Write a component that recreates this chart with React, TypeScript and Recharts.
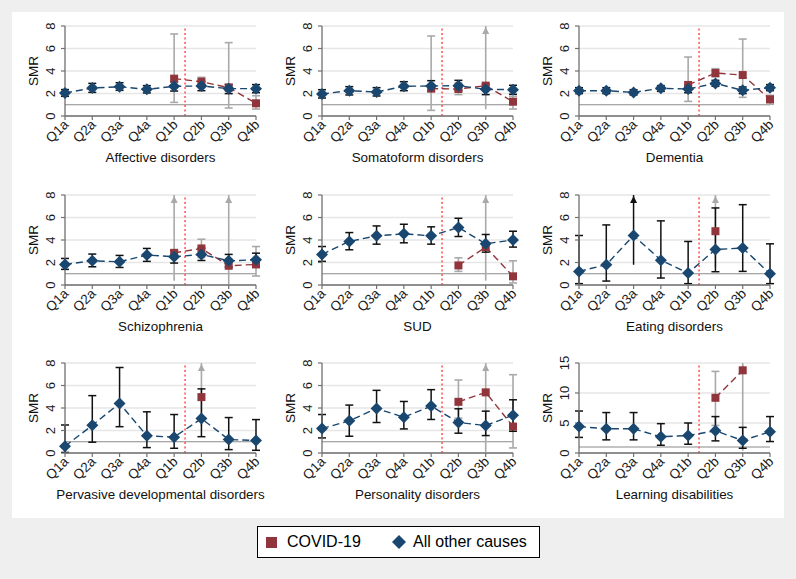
import React from 'react';
import { ComposedChart, Line, XAxis, YAxis, CartesianGrid, ReferenceLine, ErrorBar, Label } from 'recharts';

// ---------- data ----------
const quarters = ['Q1a', 'Q2a', 'Q3a', 'Q4a', 'Q1b', 'Q2b', 'Q3b', 'Q4b'];
const OFF = Infinity; // upper CI limit beyond the axis (drawn as an arrow)
const PANDEMIC_X = 4.4;
const REF_SMR = 1;
const smrTicks = [0, 2, 4, 6, 8];
const smrTicksWide = [0, 5, 10, 15];
const n = null;

const affectiveOther = [2.05, 2.49, 2.6, 2.37, 2.64, 2.67, 2.43, 2.43];
const affectiveOtherLo = [1.75, 2.1, 2.28, 2.05, 2.22, 2.25, 1.99, 2.07];
const affectiveOtherHi = [2.35, 2.9, 2.96, 2.7, 3.05, 3.08, 2.81, 2.79];
const affectiveCovid = [n, n, n, n, 3.32, 3.05, 2.52, 1.13];
const affectiveCovidLo = [n, n, n, n, 1.21, 2.64, 0.71, 0.62];
const affectiveCovidHi = [n, n, n, n, 7.29, 3.44, 6.52, 1.8];

const somatoformOther = [1.96, 2.25, 2.13, 2.64, 2.67, 2.7, 2.37, 2.34];
const somatoformOtherLo = [1.6, 1.87, 1.78, 2.25, 2.22, 2.28, 1.9, 1.93];
const somatoformOtherHi = [2.34, 2.61, 2.52, 3.05, 3.14, 3.17, 2.81, 2.73];
const somatoformCovid = [n, n, n, n, 2.43, 2.4, 2.7, 1.27];
const somatoformCovidLo = [n, n, n, n, 0.5, 1.9, 0.59, 0.62];
const somatoformCovidHi = [n, n, n, n, 7.11, 2.93, OFF, 1.75];

const dementiaOther = [2.25, 2.25, 2.1, 2.46, 2.4, 2.9, 2.28, 2.52];
const dementiaOtherLo = [1.99, 1.99, 1.87, 2.19, 2.07, 2.64, 1.99, 2.25];
const dementiaOtherHi = [2.52, 2.52, 2.34, 2.7, 2.73, 3.17, 2.58, 2.79];
const dementiaCovid = [n, n, n, n, 2.76, 3.82, 3.64, 1.48];
const dementiaCovidLo = [n, n, n, n, 1.3, 3.47, 1.66, 1.04];
const dementiaCovidHi = [n, n, n, n, 5.24, 4.21, 6.84, 1.84];

const schizoOther = [1.83, 2.15, 2.07, 2.66, 2.51, 2.72, 2.15, 2.24];
const schizoOtherLo = [1.39, 1.62, 1.56, 2.1, 1.95, 2.18, 1.59, 1.68];
const schizoOtherHi = [2.36, 2.75, 2.63, 3.25, 3.04, 3.28, 2.72, 2.83];
const schizoCovid = [n, n, n, n, 2.86, 3.25, 1.71, 1.83];
const schizoCovidLo = [n, n, n, n, 0.38, 2.45, 0.05, 0.8];
const schizoCovidHi = [n, n, n, n, OFF, 4.07, OFF, 3.42];

const sudOther = [2.72, 3.87, 4.37, 4.55, 4.37, 5.11, 3.66, 4.01];
const sudOtherLo = [2.1, 3.13, 3.63, 3.75, 3.63, 4.31, 2.92, 3.37];
const sudOtherHi = [3.42, 4.66, 5.25, 5.4, 5.17, 5.93, 4.49, 4.78];
const sudCovid = [n, n, n, n, n, 1.74, 3.37, 0.77];
const sudCovidLo = [n, n, n, n, n, 1.21, 0.38, 0.18];
const sudCovidHi = [n, n, n, n, n, 2.42, OFF, 2.15];

const eatingOther = [1.21, 1.8, 4.4, 2.21, 1.06, 3.16, 3.28, 1.0];
const eatingOtherLo = [0.12, 0.35, 1.8, 0.62, 0.12, 1.18, 1.21, 0.12];
const eatingOtherHi = [4.4, 5.34, OFF, 5.7, 3.87, 6.85, 7.14, 3.66];
const eatingCovid = [n, n, n, n, n, 4.78, n, n];
const eatingCovidLo = [n, n, n, n, n, 1.56, n, n];
const eatingCovidHi = [n, n, n, n, n, OFF, n, n];

const pervasiveOther = [0.6, 2.46, 4.41, 1.53, 1.41, 3.06, 1.2, 1.11];
const pervasiveOtherLo = [0.05, 0.96, 2.34, 0.48, 0.42, 1.45, 0.3, 0.24];
const pervasiveOtherHi = [2.49, 5.1, 7.6, 3.66, 3.42, 5.7, 3.15, 2.97];
const pervasiveCovid = [n, n, n, n, n, 4.97, n, n];
const pervasiveCovidLo = [n, n, n, n, n, 2.4, n, n];
const pervasiveCovidHi = [n, n, n, n, n, OFF, n, n];

const personalityOther = [2.17, 2.86, 3.96, 3.18, 4.17, 2.71, 2.44, 3.36];
const personalityOtherLo = [1.34, 1.49, 2.71, 2.14, 2.98, 1.76, 1.55, 1.93];
const personalityOtherHi = [3.42, 4.26, 5.57, 4.58, 5.63, 3.93, 3.72, 4.73];
const personalityCovid = [n, n, n, n, n, 4.55, 5.39, 2.35];
const personalityCovidLo = [n, n, n, n, n, 3.1, 0.1, 0.45];
const personalityCovidHi = [n, n, n, n, n, 6.49, OFF, 6.96];

const learningOther = [4.4, 4.04, 4.04, 2.7, 2.92, 3.7, 2.08, 3.54];
const learningOtherLo = [2.6, 2.19, 2.19, 1.29, 1.46, 2.02, 0.79, 1.91];
const learningOtherHi = [7.0, 6.74, 6.74, 4.89, 5.0, 6.07, 4.27, 6.07];
const learningCovid = [n, n, n, n, n, 9.2, 13.78, n];
const learningCovidLo = [n, n, n, n, n, 4.6, 0.35, n];
const learningCovidHi = [n, n, n, n, n, 13.6, OFF, n];

const legendLabels = ['COVID-19', 'All other causes'];

// ---------- styling ----------
const FONT = '"Liberation Sans", Arial, Helvetica, sans-serif';
const NAVY = '#1a476f';
const MAROON = '#90353b';
const CI_OTHER = '#111111';
const CI_COVID = '#a9a9a9';
const AXIS = '#707070';
const GRID = '#e6e6e6';

type PanelDef = {
  title: string;
  ticks: number[];
  other: (number | null)[]; otherLo: (number | null)[]; otherHi: (number | null)[];
  covid: (number | null)[]; covidLo: (number | null)[]; covidHi: (number | null)[];
};

const panels: PanelDef[] = [
  { title: 'Affective disorders', ticks: smrTicks, other: affectiveOther, otherLo: affectiveOtherLo, otherHi: affectiveOtherHi, covid: affectiveCovid, covidLo: affectiveCovidLo, covidHi: affectiveCovidHi },
  { title: 'Somatoform disorders', ticks: smrTicks, other: somatoformOther, otherLo: somatoformOtherLo, otherHi: somatoformOtherHi, covid: somatoformCovid, covidLo: somatoformCovidLo, covidHi: somatoformCovidHi },
  { title: 'Dementia', ticks: smrTicks, other: dementiaOther, otherLo: dementiaOtherLo, otherHi: dementiaOtherHi, covid: dementiaCovid, covidLo: dementiaCovidLo, covidHi: dementiaCovidHi },
  { title: 'Schizophrenia', ticks: smrTicks, other: schizoOther, otherLo: schizoOtherLo, otherHi: schizoOtherHi, covid: schizoCovid, covidLo: schizoCovidLo, covidHi: schizoCovidHi },
  { title: 'SUD', ticks: smrTicks, other: sudOther, otherLo: sudOtherLo, otherHi: sudOtherHi, covid: sudCovid, covidLo: sudCovidLo, covidHi: sudCovidHi },
  { title: 'Eating disorders', ticks: smrTicks, other: eatingOther, otherLo: eatingOtherLo, otherHi: eatingOtherHi, covid: eatingCovid, covidLo: eatingCovidLo, covidHi: eatingCovidHi },
  { title: 'Pervasive developmental disorders', ticks: smrTicks, other: pervasiveOther, otherLo: pervasiveOtherLo, otherHi: pervasiveOtherHi, covid: pervasiveCovid, covidLo: pervasiveCovidLo, covidHi: pervasiveCovidHi },
  { title: 'Personality disorders', ticks: smrTicks, other: personalityOther, otherLo: personalityOtherLo, otherHi: personalityOtherHi, covid: personalityCovid, covidLo: personalityCovidLo, covidHi: personalityCovidHi },
  { title: 'Learning disabilities', ticks: smrTicksWide, other: learningOther, otherLo: learningOtherLo, otherHi: learningOtherHi, covid: learningCovid, covidLo: learningCovidLo, covidHi: learningCovidHi },
];

// ---------- renderers ----------
const XTick = (props: any) => {
  const { x, y, payload } = props;
  return (
    <text x={x + 1} y={y} transform={`rotate(-45 ${x + 1} ${y})`} textAnchor="end" dy="0.35em"
      fontSize={13.5} fill="#1a1a1a" fontFamily={FONT}>
      {quarters[payload.value]}
    </text>
  );
};

const YTick = (props: any) => {
  const { x, y, payload } = props;
  const cx = x - 9;
  return (
    <text x={cx} y={y} transform={`rotate(-90 ${cx} ${y})`} textAnchor="middle" dy="0.35em"
      fontSize={13} fill="#1a1a1a" fontFamily={FONT}>
      {payload.value}
    </text>
  );
};

const diamondDot = (p: any) => {
  const k = `d${p.index}`;
  if (p.cx == null || p.cy == null || p.value == null) return <g key={k} />;
  const { cx, cy } = p;
  const r = 6;
  return <polygon key={k} points={`${cx},${cy - r} ${cx + r},${cy} ${cx},${cy + r} ${cx - r},${cy}`} fill={NAVY} />;
};

const squareDot = (p: any) => {
  const k = `s${p.index}`;
  if (p.cx == null || p.cy == null || p.value == null) return <g key={k} />;
  const { cx, cy } = p;
  return <rect key={k} x={cx - 4} y={cy - 4} width={8} height={8} fill={MAROON} />;
};

const arrowDot = (color: string) => (p: any) => {
  const k = `a${p.index}`;
  if (p.cx == null || p.cy == null || p.value == null) return <g key={k} />;
  const { cx, cy } = p;
  return <polygon key={k} points={`${cx},${cy + 1} ${cx - 3.5},${cy + 8} ${cx + 3.5},${cy + 8}`} fill={color} />;
};

function buildRows(def: PanelDef, ymax: number) {
  return quarters.map((_, i) => {
    const row: any = { x: i, o: def.other[i], c: def.covid[i] };
    const series: [string, (number | null)[], (number | null)[], (number | null)[]][] = [
      ['o', def.other, def.otherLo, def.otherHi],
      ['c', def.covid, def.covidLo, def.covidHi],
    ];
    series.forEach(([key, v, lo, hi]) => {
      const val = v[i], l = lo[i], h = hi[i];
      if (val == null || l == null || h == null) return;
      if (h > ymax) {
        row[key + 'ErrT'] = [val - l, ymax - val];
        row[key + 'Arrow'] = ymax;
      } else {
        row[key + 'Err'] = [val - l, h - val];
      }
    });
    return row;
  });
}

const CHART_W = 262;
const CHART_H = 150;

function Panel({ def, left, top }: { def: PanelDef; left: number; top: number }) {
  const ymax = def.ticks[def.ticks.length - 1];
  const rows = buildRows(def, ymax);
  return (
    <div style={{ position: 'absolute', left, top, width: CHART_W, height: CHART_H }}>
      <ComposedChart width={CHART_W} height={CHART_H} data={rows}
        margin={{ top: 10, right: 16, bottom: 0, left: 25 }}>
        <CartesianGrid vertical={false} stroke={GRID} strokeWidth={1.3} />
        <XAxis type="number" dataKey="x" domain={[0, 7]} ticks={[0, 1, 2, 3, 4, 5, 6, 7]}
          interval={0} height={50} tick={<XTick />} tickSize={4} tickMargin={2}
          axisLine={{ stroke: AXIS, strokeWidth: 1.3 }} tickLine={{ stroke: AXIS, strokeWidth: 1.2 }}>
          <Label content={(lp: any) => {
            const vb = lp.viewBox || {};
            return (
              <text x={vb.x + vb.width / 2} y={vb.y + 45.5} textAnchor="middle"
                fontSize={13.4} fill="#111" fontFamily={FONT}>{def.title}</text>
            );
          }} />
        </XAxis>
        <YAxis type="number" domain={[0, ymax]} ticks={def.ticks} interval={0} width={30}
          tick={<YTick />} tickSize={4} tickMargin={2}
          axisLine={{ stroke: AXIS, strokeWidth: 1.3 }} tickLine={{ stroke: AXIS, strokeWidth: 1.2 }}>
          <Label content={(lp: any) => {
            const vb = lp.viewBox || {};
            const cx = vb.x - 2;
            const cy = vb.y + vb.height / 2;
            return (
              <text x={cx} y={cy} transform={`rotate(-90 ${cx} ${cy})`} textAnchor="middle" dy="0.35em"
                fontSize={13.6} fill="#111" fontFamily={FONT}>SMR</text>
            );
          }} />
        </YAxis>
        <ReferenceLine y={REF_SMR} stroke="#8a8a8a" strokeWidth={1.1} />
        <ReferenceLine x={PANDEMIC_X} stroke="#ff5a5a" strokeWidth={1.6} strokeDasharray="2 2.5" />

        {/* COVID-19 confidence intervals */}
        <Line dataKey="c" stroke="none" dot={false} activeDot={false} isAnimationActive={false} legendType="none">
          <ErrorBar dataKey="cErr" width={4} stroke={CI_COVID} strokeWidth={1.6} isAnimationActive={false} />
        </Line>
        <Line dataKey="c" stroke="none" dot={false} activeDot={false} isAnimationActive={false} legendType="none">
          <ErrorBar dataKey="cErrT" width={0} stroke={CI_COVID} strokeWidth={1.6} isAnimationActive={false} />
        </Line>
        <Line dataKey="cArrow" stroke="none" dot={arrowDot(CI_COVID)} activeDot={false} isAnimationActive={false} legendType="none" />

        {/* COVID-19 estimates */}
        <Line dataKey="c" stroke={MAROON} strokeWidth={1.4} strokeDasharray="7 4" dot={squareDot}
          activeDot={false} isAnimationActive={false} />

        {/* All other causes confidence intervals */}
        <Line dataKey="o" stroke="none" dot={false} activeDot={false} isAnimationActive={false} legendType="none">
          <ErrorBar dataKey="oErr" width={4} stroke={CI_OTHER} strokeWidth={1.5} isAnimationActive={false} />
        </Line>
        <Line dataKey="o" stroke="none" dot={false} activeDot={false} isAnimationActive={false} legendType="none">
          <ErrorBar dataKey="oErrT" width={0} stroke={CI_OTHER} strokeWidth={1.5} isAnimationActive={false} />
        </Line>
        <Line dataKey="oArrow" stroke="none" dot={arrowDot(CI_OTHER)} activeDot={false} isAnimationActive={false} legendType="none" />

        {/* All other causes estimates */}
        <Line dataKey="o" stroke={NAVY} strokeWidth={1.4} strokeDasharray="7 4" dot={diamondDot}
          activeDot={false} isAnimationActive={false} />
      </ComposedChart>
    </div>
  );
}

export default function App() {
  return (
    <div style={{ position: 'absolute', left: 0, top: 0, width: 796, height: 579, background: '#efefef', fontFamily: FONT, overflow: 'hidden' }}>
      <div style={{ position: 'absolute', left: 12, top: 12, width: 772, height: 506, background: '#ffffff' }} />
      {panels.map((def, i) => {
        const col = i % 3;
        const row = Math.floor(i / 3);
        return <Panel key={def.title} def={def} left={10 + col * 257} top={15.7 + row * 168.8} />;
      })}
      <div style={{ position: 'absolute', left: 257, top: 526, width: 283, height: 32, boxSizing: 'border-box', border: '1px solid #000', background: '#fff', fontSize: 16, color: '#000' }}>
        <svg width={11} height={11} style={{ position: 'absolute', left: 8, top: 9.5 }}>
          <rect x={0} y={0} width={11} height={11} fill={MAROON} />
        </svg>
        <span style={{ position: 'absolute', left: 29, top: 0, lineHeight: '30px', whiteSpace: 'nowrap' }}>{legendLabels[0]}</span>
        <svg width={14} height={14} style={{ position: 'absolute', left: 133.5, top: 8 }}>
          <polygon points="7,0 14,7 7,14 0,7" fill={NAVY} />
        </svg>
        <span style={{ position: 'absolute', left: 155, top: 0, lineHeight: '30px', whiteSpace: 'nowrap' }}>{legendLabels[1]}</span>
      </div>
    </div>
  );
}
